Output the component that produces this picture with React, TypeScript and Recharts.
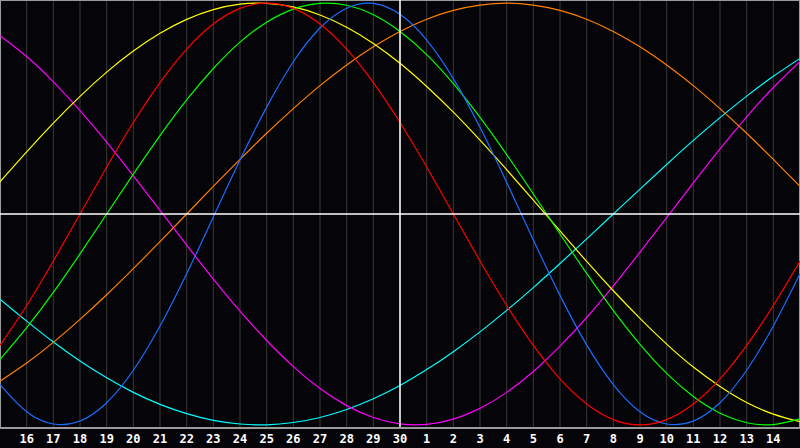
import { LineChart, Line, XAxis, YAxis, CartesianGrid, ReferenceLine } from "recharts";

// day index 0..30 across the window (index 15 = the "30" centre line)
const DAY_INDEX = [0, 1, 2, 3, 4, 5, 6, 7, 8, 9, 10, 11, 12, 13, 14, 15, 16, 17, 18, 19, 20, 21, 22, 23, 24, 25, 26, 27, 28, 29, 30];
const TICK_INDEX = [1, 2, 3, 4, 5, 6, 7, 8, 9, 10, 11, 12, 13, 14, 15, 16, 17, 18, 19, 20, 21, 22, 23, 24, 25, 26, 27, 28, 29];
const TICK_LABELS = ["16", "17", "18", "19", "20", "21", "22", "23", "24", "25", "26", "27", "28", "29", "30", "1", "2", "3", "4", "5", "6", "7", "8", "9", "10", "11", "12", "13", "14"];

const RED = [-62.3, -43.4, -22.3, 0, 22.3, 43.4, 62.3, 78.2, 90.1, 97.5, 100, 97.5, 90.1, 78.2, 62.3, 43.4, 22.3, 0, -22.3, -43.4, -62.3, -78.2, -90.1, -97.5, -100, -97.5, -90.1, -78.2, -62.3, -43.4, -22.3];
const GREEN = [-69.0, -53.9, -37.2, -18.9, 0, 18.9, 37.2, 54.1, 69.0, 81.5, 91.0, 97.2, 99.9, 99.0, 94.5, 86.6, 75.6, 61.8, 45.8, 28.2, 9.5, -9.5, -28.2, -45.8, -61.8, -75.6, -86.6, -94.5, -99.0, -99.9, -97.2];
const BLUE = [-80.9, -93.8, -99.6, -98.2, -89.5, -74.1, -53.1, -28.3, -1.4, 25.6, 50.7, 72.2, 88.2, 97.6, 99.9, 94.7, 82.5, 64.2, 41.1, 15.0, -12.3, -38.6, -62.1, -80.9, -93.8, -99.6, -98.2, -89.5, -74.1, -53.1, -28.3];
const YELLOW = [15.3, 29.5, 43.1, 55.8, 67.3, 77.3, 85.7, 92.3, 96.9, 99.5, 99.9, 98.2, 94.4, 88.6, 80.9, 71.5, 60.5, 48.3, 35.0, 21.0, 6.6, -8.0, -22.5, -36.4, -49.5, -61.7, -72.6, -81.8, -89.4, -94.9, -98.5];
const ORANGE = [-79.3, -70.7, -60.9, -50.0, -38.3, -25.9, -13.1, 0, 13.1, 25.9, 38.3, 50.0, 60.9, 70.7, 79.3, 86.6, 92.4, 96.6, 99.1, 100, 99.1, 96.6, 92.4, 86.6, 79.3, 70.7, 60.9, 50.0, 38.3, 25.9, 13.1];
const MAGENTA = [84.6, 74.7, 62.7, 49.0, 34.1, 18.1, 1.7, -14.8, -30.9, -46.1, -60.0, -72.4, -82.8, -90.9, -96.5, -99.5, -99.8, -97.3, -92.2, -84.6, -74.7, -62.7, -49.1, -34.1, -18.1, -1.7, 14.8, 30.9, 46.1, 60.0, 72.4];
const CYAN = [-40.4, -50.8, -60.7, -69.7, -77.7, -84.6, -90.3, -94.7, -97.9, -99.6, -100, -98.9, -96.5, -92.7, -87.6, -81.3, -73.8, -65.3, -55.9, -45.7, -34.9, -23.5, -11.8, 0, 11.8, 23.5, 34.9, 45.7, 55.9, 65.3, 73.8];

const data = DAY_INDEX.map((i, k) => ({
    i,
    red: RED[k],
    green: GREEN[k],
    blue: BLUE[k],
    yellow: YELLOW[k],
    orange: ORANGE[k],
    magenta: MAGENTA[k],
    cyan: CYAN[k],
}));

const SERIES = [
    { key: "cyan", color: "#00ffff" },
    { key: "magenta", color: "#ff00ff" },
    { key: "orange", color: "#ff8000" },
    { key: "yellow", color: "#ffff00" },
    { key: "green", color: "#00ff00" },
    { key: "blue", color: "#1a6eff" },
    { key: "red", color: "#ff0000" },
];

const Y_MAX = 101.5;

function DayTick({ x, payload }: any) {
    const idx = TICK_INDEX.indexOf(payload.value);
    return (
        <text
            x={x}
            y={443}
            textAnchor="middle"
            fill="#ffffff"
            fontSize={12}
            fontWeight="bold"
            fontFamily="DejaVu Sans Mono"
        >
            {TICK_LABELS[idx]}
        </text>
    );
}

export default function App() {
    return (
        <div style={{ position: "absolute", left: 0, top: 0, width: 800, height: 448, background: "#050408" }}>
            <LineChart width={800} height={448} data={data} margin={{ top: 0, right: 0, left: 0, bottom: 0 }}>
                <CartesianGrid vertical horizontal={false} stroke="#3a3a3a" />
                <XAxis
                    dataKey="i"
                    type="number"
                    domain={[0, 30]}
                    ticks={TICK_INDEX}
                    interval={0}
                    height={20}
                    axisLine={{ stroke: "#9a9a9a", strokeWidth: 2 }}
                    tickLine={false}
                    tick={<DayTick />}
                />
                <YAxis hide type="number" domain={[-Y_MAX, Y_MAX]} />
                <ReferenceLine x={0} stroke="#9a9a9a" strokeWidth={2} />
                <ReferenceLine x={30} stroke="#9a9a9a" strokeWidth={2} />
                <ReferenceLine y={Y_MAX} stroke="#9a9a9a" strokeWidth={2} />
                {SERIES.map((s) => (
                    <Line
                        key={s.key}
                        dataKey={s.key}
                        type="natural"
                        stroke={s.color}
                        strokeWidth={1.2}
                        dot={false}
                        activeDot={false}
                        isAnimationActive={false}
                    />
                ))}
                <ReferenceLine x={15} stroke="#ffffff" strokeWidth={1.5} />
                <ReferenceLine y={0} stroke="#ffffff" strokeWidth={1.5} />
            </LineChart>
        </div>
    );
}
